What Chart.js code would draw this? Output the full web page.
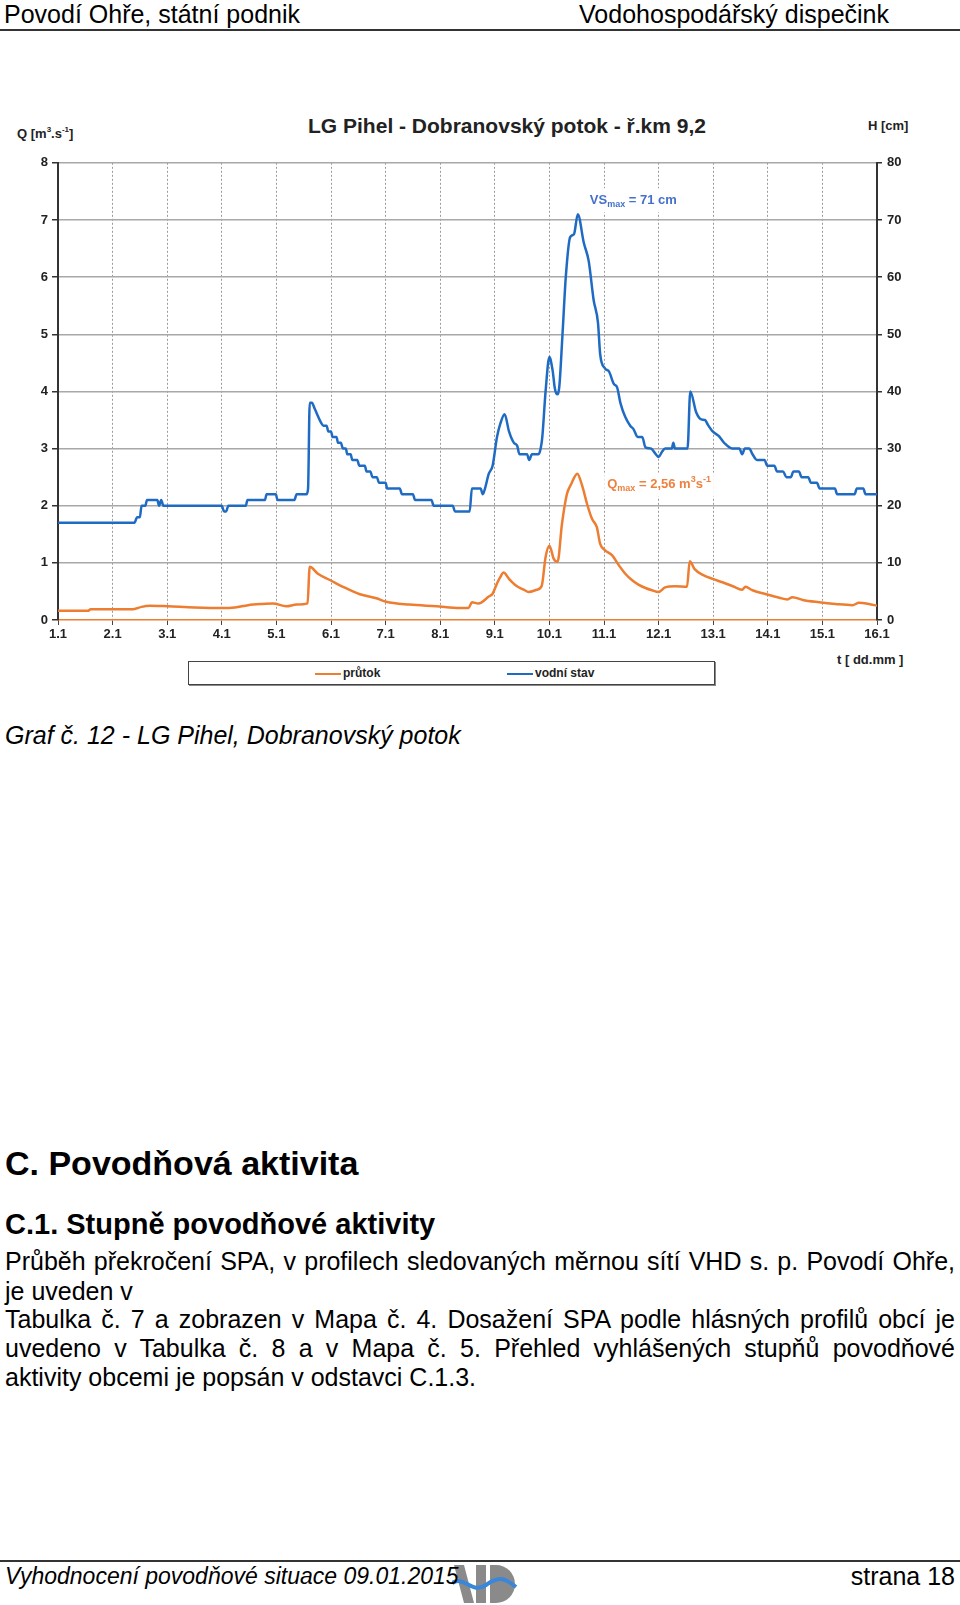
<!DOCTYPE html>
<html lang="cs">
<head>
<meta charset="utf-8">
<title>LG Pihel - Dobranovský potok</title>
<script src="https://cdn.jsdelivr.net/npm/chart.js@4/dist/chart.umd.min.js"></script>
<style>
  html, body { margin: 0; padding: 0; background: #fff; }
  body { width: 960px; height: 1605px; position: relative; overflow: hidden; font-family: "Liberation Sans", Arial, sans-serif; color: #000; }
  .abs { position: absolute; white-space: nowrap; }
  .narrow { font-family: "Liberation Sans Narrow", "Liberation Sans", Arial, sans-serif; }
  .rule { position: absolute; left: 0; width: 960px; height: 2px; background: #333; }
  .ctr { transform: translateY(-50%); }
  #chartBox { position: absolute; left: 0; top: 150px; width: 960px; height: 500px; }
  .axisTitle { font-weight: bold; font-size: 13px; color: #222; }
  .axisTitle sup { font-size: 8px; }
  #legend { position: absolute; left: 188px; top: 661px; width: 525px; height: 22px; border: 1.5px solid #444; box-shadow: 1px 1px 0 #888; }
  .lgItem { position: absolute; top: 11px; transform: translateY(-50%); font-weight: bold; font-size: 12px; color: #222; }
  .lgLine { display: inline-block; width: 26px; height: 2.5px; vertical-align: middle; margin-right: 2px; }
  .para { position: absolute; left: 5px; width: 950px; font-size: 25px; line-height: 28px; text-align: justify; text-align-last: justify; white-space: nowrap; }
  .para.left { text-align-last: left; }
</style>
</head>
<body>
<!-- 頁首 -->
<div class="abs narrow ctr" style="left:4px; top:14px; font-size:25px;">Povodí Ohře, státní podnik</div>
<div class="abs narrow ctr" style="right:71px; top:14px; font-size:25px;">Vodohospodářský dispečink</div>
<div class="rule" style="top:29px;"></div>

<!-- 圖表標題與軸標題 -->
<div class="abs" style="left:507px; top:126px; transform:translate(-50%,-50%); font-weight:bold; font-size:21px; color:#222;">LG Pihel - Dobranovský potok - ř.km 9,2</div>
<div class="abs ctr narrow axisTitle" style="left:17px; top:133px;">Q [m<sup>3</sup>.s<sup>-1</sup>]</div>
<div class="abs ctr narrow axisTitle" style="left:868px; top:125px;">H [cm]</div>
<div class="abs ctr narrow axisTitle" style="left:837px; top:659px;">t [ dd.mm ]</div>

<div id="chartBox"><canvas id="chart"></canvas></div>

<!-- 圖例 -->
<div id="legend" class="narrow">
  <div class="lgItem" style="left:126px;"><span class="lgLine" style="background:#ed7d31;"></span>průtok</div>
  <div class="lgItem" style="left:318px;"><span class="lgLine" style="background:#1f6bc4;"></span>vodní stav</div>
</div>

<div class="abs ctr" style="left:5px; top:735px; font-size:25px; font-style:italic;">Graf č. 12 - LG Pihel, Dobranovský potok</div>

<div class="abs ctr" style="left:5px; top:1163px; font-size:34px; font-weight:bold;">C. Povodňová aktivita</div>
<div class="abs ctr" style="left:5px; top:1224px; font-size:29px; font-weight:bold;">C.1. Stupně povodňové aktivity</div>

<div class="para ctr" style="top:1261px;">Průběh překročení SPA, v profilech sledovaných měrnou sítí VHD s. p. Povodí Ohře,</div>
<div class="para ctr left" style="top:1291px;">je uveden v</div>
<div class="para ctr" style="top:1319px;">Tabulka č. 7 a zobrazen v Mapa č. 4. Dosažení SPA podle hlásných profilů obcí je</div>
<div class="para ctr" style="top:1348px;">uvedeno v Tabulka č. 8 a v Mapa č. 5. Přehled vyhlášených stupňů povodňové</div>
<div class="para ctr left" style="top:1377px;">aktivity obcemi je popsán v odstavci C.1.3.</div>

<!-- 頁尾 -->
<div class="rule" style="top:1560px;"></div>
<svg class="abs" style="left:452px; top:1563px;" width="66" height="42" viewBox="0 0 66 42">
  <polygon points="2,2 12,2 22,40 12,40" fill="#8a8a8a"/>
  <rect x="24" y="2" width="10" height="38" fill="#8a8a8a"/>
  <path d="M38 2 h6 a19 19 0 0 1 0 38 h-6 z" fill="#8a8a8a"/>
  <path d="M0 20 C 12 12, 20 32, 34 22 S 54 16, 64 24" stroke="#3a86d8" stroke-width="4" fill="none"/>
</svg>
<div class="abs narrow ctr" style="left:5px; top:1576px; font-size:23px; font-style:italic;">Vyhodnocení povodňové situace 09.01.2015</div>
<div class="abs narrow ctr" style="right:5px; top:1576px; font-size:25px;">strana 18</div>

<script>
// x 軸刻度標籤 (日.月), 索引對應從 1.1 起算的天數
const tickLabels = ["1.1", "2.1", "3.1", "4.1", "5.1", "6.1", "7.1", "8.1", "9.1", "10.1", "11.1", "12.1", "13.1", "14.1", "15.1", "16.1"]

// 水位 H [cm]: 時間 (天, 0 = 1.1) 與數值
const hTime = [
  0, 1.40, 1.45, 1.50, 1.53, 1.60, 1.63, 1.82, 1.85, 1.89, 1.93, 3.00, 3.04, 3.08, 3.12, 3.44, 3.47, 3.79, 3.82, 3.99,
  4.02, 4.33, 4.37, 4.55, 4.58, 4.61, 4.65, 4.70, 4.82, 4.86, 4.92, 4.95, 5.00, 5.03, 5.10, 5.13, 5.18, 5.22, 5.27, 5.30,
  5.36, 5.39, 5.48, 5.52, 5.62, 5.65, 5.72, 5.76, 5.84, 5.88, 6.00, 6.03, 6.26, 6.30, 6.50, 6.54, 6.84, 6.88, 7.23, 7.27,
  7.54, 7.58, 7.74, 7.78, 7.82, 7.89, 7.96, 8.04, 8.10, 8.18, 8.26, 8.35, 8.41, 8.45, 8.59, 8.63, 8.68, 8.80, 8.84, 8.87,
  8.93, 9.00, 9.06, 9.10, 9.14, 9.18, 9.24, 9.30, 9.38, 9.45, 9.52, 9.63, 9.72, 9.81, 9.89, 9.93, 10.02, 10.09, 10.18, 10.24,
  10.30, 10.39, 10.48, 10.54, 10.62, 10.70, 10.76, 10.86, 10.95, 11.00, 11.06, 11.12, 11.24, 11.27, 11.30, 11.53, 11.58, 11.69, 11.78, 11.85,
  11.90, 11.99, 12.10, 12.20, 12.35, 12.48, 12.53, 12.58, 12.66, 12.72, 12.80, 12.94, 12.99, 13.12, 13.17, 13.28, 13.34, 13.42, 13.47, 13.57,
  13.62, 13.74, 13.79, 13.90, 13.95, 14.23, 14.27, 14.59, 14.63, 14.75, 14.79, 15.00,
]
const hLevel = [
  17, 17, 18, 18, 20, 20, 21, 21, 20, 21, 20, 20, 19, 19, 20, 20, 21, 21, 22, 22,
  21, 21, 22, 22, 23, 38, 38, 37, 34.5, 34, 34, 33, 33, 32, 32, 31, 31, 30, 30, 29,
  29, 28, 28, 27, 27, 26, 26, 25, 25, 24, 24, 23, 23, 22, 22, 21, 21, 20, 20, 19,
  19, 23, 23, 22, 23, 25.6, 27, 32, 34.3, 36, 33, 31, 30.5, 29, 29, 28, 29, 29, 30, 32,
  40, 46, 43.6, 40.5, 39.5, 40.7, 50, 60, 67, 67.5, 71, 66, 62.8, 56, 52, 46.5, 44, 43.5, 41.3, 40.7,
  38, 35.5, 34, 33.4, 32, 32, 30.2, 30, 29, 28.5, 29.4, 30, 30, 31, 30, 30, 40, 36.3, 35.1, 35,
  34.2, 33, 32.2, 31, 30, 30, 29, 30, 30, 29, 28, 28, 27, 27, 26, 26, 25, 25, 26, 26,
  25, 25, 24, 24, 23, 23, 22, 22, 23, 23, 22, 22,
]

// průtok Q [m3/s]: 時間 (天) 與數值
const qTime = [
  0, 0.55, 0.60, 1.38, 1.53, 1.68, 2.01, 2.50, 2.99, 3.24, 3.48, 3.72, 3.94, 4.18, 4.37, 4.57, 4.61, 4.76, 4.98, 5.22,
  5.53, 5.83, 6.01, 6.44, 6.93, 7.36, 7.52, 7.58, 7.70, 7.89, 7.96, 8.04, 8.10, 8.16, 8.26, 8.38, 8.53, 8.62, 8.77, 8.86,
  8.93, 9.00, 9.08, 9.15, 9.23, 9.32, 9.40, 9.51, 9.60, 9.69, 9.78, 9.87, 9.93, 10.02, 10.15, 10.27, 10.39, 10.51, 10.63, 10.76,
  10.88, 11.00, 11.12, 11.30, 11.52, 11.57, 11.66, 11.81, 11.99, 12.17, 12.36, 12.53, 12.59, 12.72, 12.97, 13.21, 13.36, 13.45, 13.64, 13.94,
  14.24, 14.55, 14.67, 14.85, 15.00,
]
const qFlow = [
  0.16, 0.16, 0.19, 0.19, 0.23, 0.25, 0.24, 0.22, 0.21, 0.22, 0.26, 0.28, 0.29, 0.24, 0.27, 0.29, 0.93, 0.81, 0.70, 0.58,
  0.45, 0.38, 0.32, 0.27, 0.24, 0.21, 0.21, 0.31, 0.29, 0.41, 0.46, 0.64, 0.75, 0.83, 0.72, 0.61, 0.53, 0.49, 0.53, 0.60,
  1.10, 1.30, 1.07, 1.02, 1.68, 2.20, 2.38, 2.56, 2.35, 2.03, 1.77, 1.62, 1.33, 1.22, 1.13, 0.96, 0.81, 0.70, 0.62, 0.56,
  0.52, 0.49, 0.57, 0.59, 0.58, 1.03, 0.89, 0.79, 0.72, 0.66, 0.59, 0.53, 0.58, 0.52, 0.45, 0.39, 0.36, 0.40, 0.35, 0.31,
  0.28, 0.26, 0.30, 0.28, 0.25,
]

const orange = "#ed7d31"
const blue = "#1f6bc4"
const narrowFont = "'Liberation Sans Narrow', 'Liberation Sans', Arial, sans-serif"

Chart.defaults.font.family = narrowFont
Chart.defaults.color = "#222"

// 依片段 (一般 / 下標 / 上標) 繪製帶白底的標註文字
function drawRichText(ctx, x, y, parts, color) {
  const big = "bold 13px " + narrowFont
  const small = "bold 9px " + narrowFont
  let w = 0
  parts.forEach((p) => {
    ctx.font = p.k ? small : big
    w += ctx.measureText(p.t).width
  })
  ctx.save()
  ctx.fillStyle = "#fff"
  ctx.fillRect(x - 3, y - 12, w + 6, 24)
  ctx.fillStyle = color
  ctx.textBaseline = "middle"
  let cx = x
  parts.forEach((p) => {
    ctx.font = p.k ? small : big
    const dy = p.k === "sub" ? 4 : p.k === "sup" ? -5 : 0
    ctx.fillText(p.t, cx, y + dy)
    cx += ctx.measureText(p.t).width
  })
  ctx.restore()
}

// 峰值標註
const peakLabels = {
  id: "peakLabels",
  afterDatasetsDraw(chart) {
    const { ctx, scales } = chart
    const hMax = Math.max(...hLevel)
    const hi = hLevel.indexOf(hMax)
    const hx = scales.x.getPixelForValue(hTime[hi])
    const hy = scales.yH.getPixelForValue(hMax)
    drawRichText(ctx, hx + 12, hy - 14, [
      { t: "VS" },
      { t: "max", k: "sub" },
      { t: " = " + hMax + " cm" },
    ], "#4470cc")

    const qMax = Math.max(...qFlow)
    const qi = qFlow.indexOf(qMax)
    const qx = scales.x.getPixelForValue(qTime[qi])
    const qy = scales.yQ.getPixelForValue(qMax)
    drawRichText(ctx, qx + 30, qy + 11, [
      { t: "Q" },
      { t: "max", k: "sub" },
      { t: " = " + qMax.toFixed(2).replace(".", ",") + " m" },
      { t: "3", k: "sup" },
      { t: "s" },
      { t: "-1", k: "sup" },
    ], "#ee8040")
  },
}

const tickFont = { size: 13, weight: "bold" }

new Chart(document.getElementById("chart"), {
  type: "line",
  data: {
    datasets: [
      {
        label: "průtok",
        data: qTime.map((t, i) => ({ x: t, y: qFlow[i] })),
        yAxisID: "yQ",
        borderColor: orange,
        backgroundColor: orange,
        borderWidth: 2.5,
        pointRadius: 0,
        cubicInterpolationMode: "monotone",
      },
      {
        label: "vodní stav",
        data: hTime.map((t, i) => ({ x: t, y: hLevel[i] })),
        yAxisID: "yH",
        borderColor: blue,
        backgroundColor: blue,
        borderWidth: 2.5,
        pointRadius: 0,
        cubicInterpolationMode: "monotone",
      },
    ],
  },
  options: {
    responsive: true,
    maintainAspectRatio: false,
    animation: false,
    layout: { padding: { top: 10, left: 0, right: 0, bottom: 0 } },
    plugins: {
      legend: { display: false },
      tooltip: { enabled: false },
    },
    scales: {
      x: {
        type: "linear",
        min: 0,
        max: tickLabels.length - 1,
        afterFit: (scale) => { scale.height = 30 },
        ticks: {
          stepSize: 1,
          autoSkip: false,
          maxRotation: 0,
          padding: 2,
          font: tickFont,
          callback: (v) => tickLabels[v],
        },
        grid: { color: "#9a9a9a", lineWidth: 1, tickLength: 5, tickColor: "#444" },
        // 垂直格線改虛線, 底線為橘色
        border: { color: orange, width: 1.5, dash: [2, 2] },
      },
      yQ: {
        position: "left",
        min: 0,
        max: 8,
        afterFit: (scale) => { scale.width = 58 },
        ticks: { stepSize: 1, padding: 4, font: tickFont },
        grid: {
          color: (c) => (c.tick && c.tick.value === 0 ? "rgba(0,0,0,0)" : "#a8a8a8"),
          lineWidth: 1.5,
          tickLength: 6,
          tickColor: "#333",
        },
        border: { color: "#333", width: 2 },
      },
      yH: {
        position: "right",
        min: 0,
        max: 80,
        afterFit: (scale) => { scale.width = 83 },
        ticks: { stepSize: 10, padding: 5, font: tickFont },
        grid: { drawOnChartArea: false, tickLength: 5, tickColor: "#333", lineWidth: 1.5 },
        border: { color: "#333", width: 2 },
      },
    },
  },
  plugins: [peakLabels],
})
</script>
</body>
</html>
